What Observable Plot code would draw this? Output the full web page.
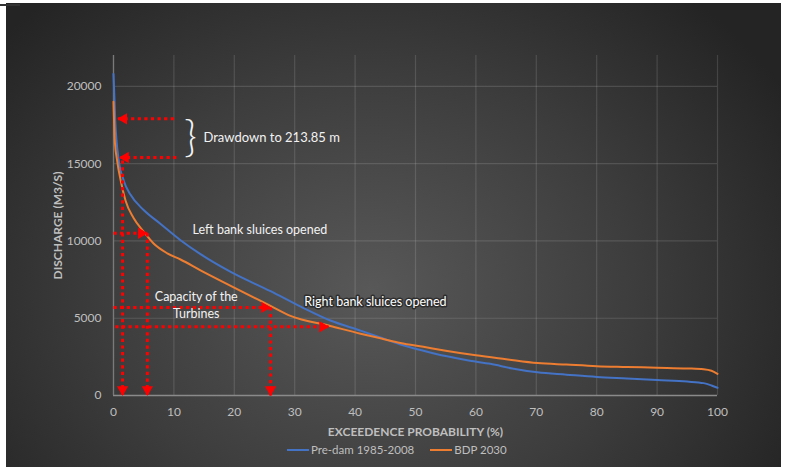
<!DOCTYPE html>
<html>
<head>
<meta charset="utf-8">
<script src="https://cdn.jsdelivr.net/npm/d3@7"></script>
<script src="https://cdn.jsdelivr.net/npm/@observablehq/plot@0.6"></script>
<style>
  html, body { margin: 0; padding: 0; background: #ffffff; }
  #wrap { position: relative; width: 791px; height: 467px; overflow: hidden; font-family: Lato, "Open Sans", sans-serif; }
  #bg { position: absolute; left: 6px; top: 3px; width: 775px; height: 464px;
        background: radial-gradient(ellipse 62% 85% at 47% 62%, #585858 0%, #3d3d3d 55%, #242424 100%); }
  #tick { position: absolute; left: 0; top: 4px; width: 20px; height: 2px; background: #333; }
  #chart { position: absolute; left: 0; top: 0; }
  #chart svg { overflow: visible; }
  g[aria-label="x-axis label"] text, g[aria-label="y-axis label"] text { font-weight: bold; }
  #legend { position: absolute; top: 443px; left: 287px; display: flex; align-items: center; color: #bfbfbf; font-size: 11.5px; }
  .sw { display: inline-block; width: 22px; height: 2px; margin-right: 2px; }
</style>
</head>
<body>
<div id="wrap">
  <div id="bg"></div>
  <div id="tick"></div>
  <div id="chart"></div>
  <div id="legend">
    <span class="sw" style="background:#4472C4"></span><span>Pre-dam 1985-2008</span>
    <span class="sw" style="background:#ED7D31; margin-left:16px"></span><span>BDP 2030</span>
  </div>
</div>
<script>
// Exceedence probability (%) and discharge (m3/s)
const preX = [0,0.3,0.8,1.7,2.8,5,7.8,11.1,14.4,19.4,26,31,35.9,40.9,44.2,47.5,51.3,55,59,62.4,66,70.2,75,80,85,90,95,97.7,99,100];
const preY = [20800,17700,15400,13900,13000,12000,11100,10050,9150,8000,6750,5750,4850,4200,3750,3300,2900,2550,2250,2050,1750,1500,1350,1200,1100,1000,900,800,650,500];
const bdpX = [0,0.2,0.6,1.2,2,3.3,5,6.6,8.9,11.1,14.4,19.4,26,29.3,35.9,40.9,44.2,47.5,51.3,55,60,65,70.2,75,80,85,90,95,97.7,99,100];
const bdpY = [19000,16600,15200,13900,12600,11500,10600,9850,9200,8800,8100,7100,5800,5150,4500,4000,3700,3400,3150,2900,2600,2350,2100,2000,1900,1850,1800,1750,1700,1600,1400];

const xTicks = [0,10,20,30,40,50,60,70,80,90,100];
const yTicks = [0,5000,10000,15000,20000];

// Red dotted annotation arrows: from (x1,y1) to tip (x2,y2), direction of head
const arrowX1 = [10, 10.4, 1.5, 0, 5.6, 0, 26, 0.3];
const arrowY1 = [17900, 15400, 15200, 10500, 10500, 5700, 5700, 4450];
const arrowX2 = [0.7, 1.0, 1.5, 5.6, 5.6, 26, 26, 35.6];
const arrowY2 = [17900, 15400, 0, 10500, 0, 5700, 0, 4450];
const arrowDir = ["left","left","down","right","down","right","down","right"];

// Text annotations
const noteText = ["Drawdown to 213.85 m", "Left bank sluices opened", "Capacity of the\nTurbines", "Right bank sluices opened"];
const noteX = [14.9, 13.1, 13.7, 31.6];
const noteY = [16770, 10770, 5900, 6060];
const noteAnchor = ["start", "start", "middle", "start"];
const noteSize = [13, 12.5, 12.5, 12.5];
const noteOutlined = [false, false, false, true];

const pre = preX.map((x, i) => ({x, y: preY[i], s: "Pre-dam 1985-2008"}));
const bdp = bdpX.map((x, i) => ({x, y: bdpY[i], s: "BDP 2030"}));
const arrows = arrowX1.map((x1, i) => ({x1, y1: arrowY1[i], x2: arrowX2[i], y2: arrowY2[i], dir: arrowDir[i]}));
const notes = noteText.map((t, i) => ({t, x: noteX[i], y: noteY[i], a: noteAnchor[i], fs: noteSize[i], o: noteOutlined[i]}));

const red = "#ff0000";
const headMarks = [
  {dir: "left", rotate: -90, dx: 6, dy: 0},
  {dir: "right", rotate: 90, dx: -6, dy: 0},
  {dir: "down", rotate: 180, dx: 0, dy: -6}
].map(h => Plot.dot(arrows.filter(a => a.dir === h.dir), {
  x: "x2", y: "y2", symbol: "triangle", r: 4.2, fill: red, stroke: "none", rotate: h.rotate, dx: h.dx, dy: h.dy
}));

const noteMarks = ["start", "middle"].flatMap(anchor => [
  Plot.text(notes.filter(n => n.a === anchor && !n.o), {x: "x", y: "y", text: "t", textAnchor: anchor, fontSize: "fs", fill: "#f2f2f2", lineHeight: 1.35}),
  Plot.text(notes.filter(n => n.a === anchor && n.o), {x: "x", y: "y", text: "t", textAnchor: anchor, fontSize: "fs", fill: "#ffffff", stroke: "#2e2e2e", strokeWidth: 3})
]);

const chart = Plot.plot({
  width: 791,
  height: 467,
  marginLeft: 113,
  marginRight: 74,
  marginTop: 55,
  marginBottom: 72,
  style: {background: "transparent", fontFamily: "Lato, 'Open Sans', sans-serif", fontSize: "12px", color: "#bfbfbf"},
  x: {domain: [0, 100]},
  y: {domain: [0, 22000]},
  marks: [
    Plot.gridX(xTicks, {stroke: "#ffffff", strokeOpacity: 0.13, strokeWidth: 1.2}),
    Plot.gridY(yTicks.filter(d => d > 0), {stroke: "#ffffff", strokeOpacity: 0.13, strokeWidth: 1.2}),
    Plot.ruleY([0], {stroke: "#8a8a8a", strokeWidth: 1.3}),
    Plot.ruleX([0], {stroke: "#7a7a7a", strokeWidth: 1.3}),
    Plot.axisX({ticks: xTicks, tickSize: 0, tickPadding: 12, fontSize: 12, fill: "#bfbfbf",
      label: "EXCEEDENCE PROBABILITY (%)", labelAnchor: "center", labelArrow: "none", labelOffset: 40}),
    Plot.axisY({ticks: yTicks, tickSize: 0, tickPadding: 12, tickFormat: d3.format("d"), fontSize: 12, fill: "#bfbfbf",
      label: "DISCHARGE (M3/S)", labelAnchor: "center", labelArrow: "none", labelOffset: 60}),
    Plot.line(pre, {x: "x", y: "y", stroke: "#4472C4", strokeWidth: 2, curve: "monotone-x"}),
    Plot.line(bdp, {x: "x", y: "y", stroke: "#ED7D31", strokeWidth: 2, curve: "monotone-x"}),
    Plot.link(arrows, {x1: "x1", y1: "y1", x2: "x2", y2: "y2", stroke: red, strokeWidth: 3, strokeDasharray: "3.2,3.4"}),
    ...headMarks,
    ...noteMarks,
    Plot.text(["}"], {x: [12.75], y: [16650], fontSize: 44, fontWeight: 300, fill: "#f2f2f2"})
  ]
});
document.getElementById("chart").appendChild(chart);
</script>
</body>
</html>
